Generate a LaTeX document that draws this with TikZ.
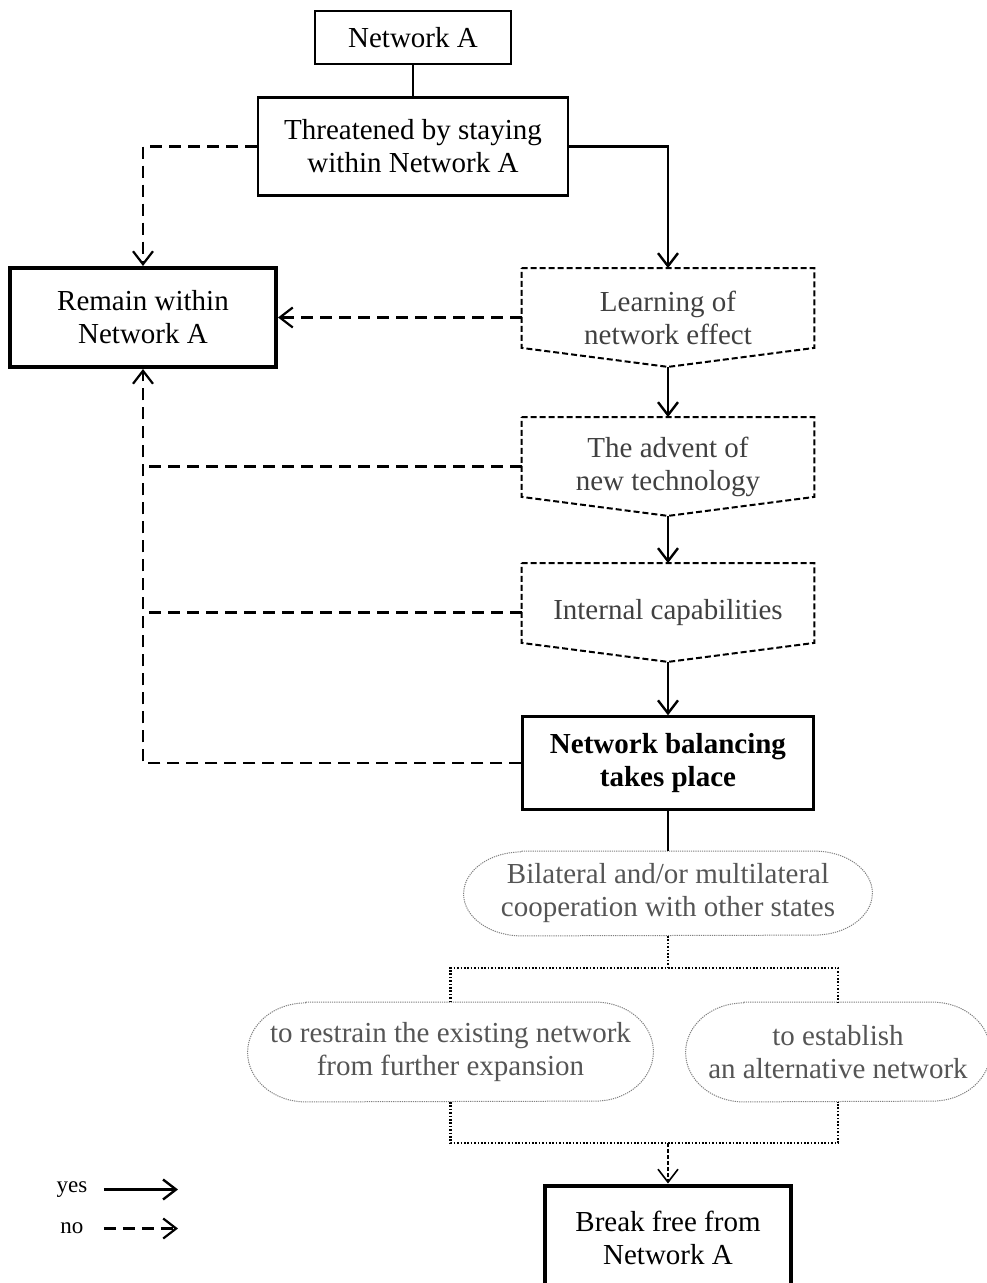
\documentclass[tikz,border=0pt]{standalone}
\usepackage{fontspec}
\setmainfont{Liberation Serif}
\usetikzlibrary{arrows.meta,positioning}
\definecolor{softink}{HTML}{404040}
\definecolor{paleink}{HTML}{555555}
\newcommand\chevron[1]{% node
  \draw[chevline] (#1.north west) -- (#1.north east) -- ([yshift=9.5pt]#1.south east)
    -- (#1.south) -- ([yshift=9.5pt]#1.south west) -- cycle;
}
\newcommand\capsule[2]{% node, half height
  \draw[pillline] ([xshift=29pt]#1.north west) -- ([xshift=-29pt]#1.north east)
    arc[start angle=90,end angle=-90,x radius=29pt,y radius=#2]
    -- ([xshift=29pt]#1.south west)
    arc[start angle=270,end angle=90,x radius=29pt,y radius=#2] -- cycle;
}

\begin{document}
\begin{tikzpicture}
  \tikzset{
    >={Straight Barb[length=6.5pt,width=10pt]},
    on grid,
    every node/.style={font=\fontsize{14.5}{16.5}\selectfont,align=center,inner sep=0pt},
    box/.style={draw,line width=1pt},
    endbox/.style={draw,line width=2pt},
    chev/.style={minimum width=146pt,minimum height=49pt,text=softink},
    chevline/.style={line width=1pt,dash pattern=on 3pt off 1.5pt},
    pill/.style={text=paleink},
    pillline/.style={line width=0.5pt,draw=gray,dash pattern=on 0.6pt off 0.5pt},
    yes/.style={->,line width=1.2pt},
    no/.style={->,line width=1.1pt,dash pattern=on 6pt off 3.5pt},
    noline/.style={line width=1.1pt,dash pattern=on 6pt off 3.5pt},
    plain/.style={line width=0.7pt},
    dots/.style={line width=1.1pt,dash pattern=on 0.8pt off 0.9pt},
    dotarrow/.style={->,line width=0.8pt,dash pattern=on 2pt off 1pt},
    legend/.style={font=\fontsize{11.5}{13}\selectfont},
  }
  \useasboundingbox (-206.5pt,18.75pt) rectangle (286.5pt,-622.75pt);

  \node [box,minimum width=98pt,minimum height=26.5pt]        (netA)                                   {Network A};
  \node [box,line width=1.2pt,minimum width=155pt,minimum height=49pt] (threat) [below=54.5pt of netA]  {Threatened by staying\\within Network A};
  \node [endbox,minimum width=133pt,minimum height=49.5pt]   (remain)   [below left=85.5pt and 135pt of threat]    {Remain within\\Network A};
  \node [chev]                                                (learn)    [below right=85.5pt and 127.5pt of threat] {Learning of\\network effect};
  \node [chev]                                                (advent)   [below=74.5pt of learn]    {The advent of\\new technology};
  \node [chev]                                                (internal) [below=73pt of advent]     {Internal capabilities};
  \node [box,line width=1.2pt,minimum width=145.5pt,minimum height=46.5pt,
         font=\fontsize{14.5}{16.5}\selectfont\bfseries]     (balance)  [below=75.25pt of internal] {Network balancing\\takes place};
  \node [pill,minimum width=204pt,minimum height=42pt]       (bilat)    [below=65.25pt of balance]  {Bilateral and/or multilateral\\cooperation with other states};
  \node [pill,minimum width=202.5pt,minimum height=49.5pt]   (restrain) [below left=79.25pt and 108.75pt of bilat] {to restrain the existing network\\from further expansion};
  \node [pill,minimum width=152pt,minimum height=49.5pt]     (establish) [below right=79.25pt and 85pt of bilat]   {to establish\\an alternative network};
  \node [endbox,minimum width=123pt,minimum height=52pt]     (breakfree) [below=172pt of bilat]   {Break free from\\Network A};

  \chevron{learn}
  \chevron{advent}
  \chevron{internal}
  \capsule{bilat}{21pt}
  \capsule{restrain}{24.75pt}
  \capsule{establish}{24.75pt}

  % yes / no paths
  \draw[plain] (netA) -- (threat);
  \draw[no] (threat.west) -| (remain.north);
  \draw[yes] (threat.east) -| (learn.north);
  \draw[no] (learn.west) -- (remain.east);
  \draw[yes] (learn.south) -- (advent.north);
  \draw[yes] (advent.south) -- (internal.north);
  \draw[yes] (internal.south) -- (balance.north);
  \draw[noline] (advent.west) -- (advent.west -| remain.south);
  \draw[noline] (internal.west) -- (internal.west -| remain.south);
  \draw[no] (balance.west) -| (remain.south);

  % cooperation branches
  \draw[plain] (balance) -- (bilat);
  \coordinate [below=16pt of bilat.south] (split);
  \coordinate [below=20.5pt of restrain.south] (merge);
  \draw[dots] (bilat.south) -- (split);
  \draw[dots] (restrain.north) |- (split) -| (establish.north);
  \draw[dots] (restrain.south) -- (merge) -| (establish.south);
  \draw[dotarrow] (merge -| breakfree.north) -- (breakfree.north);

  % legend
  \node [legend] (yeslabel) at (-170.5pt,-576pt)   {yes};
  \node [legend] (nolabel)  at (-170.5pt,-595.5pt) {no};
  \coordinate [right=16pt of yeslabel] (yestail);
  \coordinate [right=37pt of yestail]  (yestip);
  \coordinate [right=16pt of nolabel]  (notail);
  \coordinate [right=37pt of notail]   (notip);
  \draw[yes] (yestail) -- (yestip);
  \draw[no]  (notail) -- (notip);
\end{tikzpicture}
\end{document}
